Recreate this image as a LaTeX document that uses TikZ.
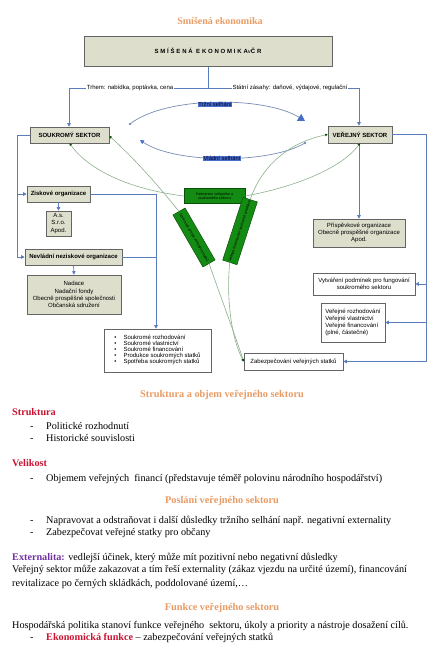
\documentclass[tikz,border=0pt]{standalone}
\usepackage{fontspec}
\setmainfont{Liberation Serif}
\setsansfont{Liberation Sans}
\usetikzlibrary{arrows.meta,calc}
\definecolor{orng}{RGB}{232,155,100}
\definecolor{redt}{RGB}{200,20,50}
\definecolor{purp}{RGB}{112,48,160}
\definecolor{boxfill}{RGB}{221,223,204}
\definecolor{boxdraw}{RGB}{100,100,100}
\definecolor{conblue}{RGB}{90,125,190}
\definecolor{arcblue}{RGB}{120,140,180}
\definecolor{hlblue}{RGB}{70,110,200}
\definecolor{gline}{RGB}{140,175,140}
\definecolor{gfill}{RGB}{20,140,20}
\definecolor{gdraw}{RGB}{10,80,10}
\tikzset{
  dbox/.style={draw=boxdraw, fill=boxfill, line width=0.6pt, font=\sffamily\fontsize{6}{7.2}\selectfont, align=center, inner sep=1pt},
  wbox/.style={draw=boxdraw, fill=white, line width=0.6pt, font=\sffamily\fontsize{6}{7.2}\selectfont, inner sep=1pt},
  bold/.style={font=\sffamily\bfseries\fontsize{6}{7.2}\selectfont},
  bcon/.style={draw=conblue, line width=0.7pt},
  barr/.style={bcon, -{Triangle[length=3.5pt,width=3.5pt]}},
  gcon/.style={draw=gline, line width=0.6pt, -{Triangle[length=2.5pt,width=2.5pt,fill=gdraw,color=gdraw]}},
  gbox/.style={draw=gdraw, fill=gfill, line width=0.5pt, font=\sffamily\fontsize{3.6}{4.2}\selectfont, align=center, inner sep=0.5pt},
  hl/.style={fill=hlblue, inner sep=0.6pt, font=\sffamily\fontsize{5.8}{6.5}\selectfont, text=black!80!blue},
  lbl/.style={fill=white, inner sep=1pt, font=\sffamily\fontsize{6}{7}\selectfont},
  body/.style={anchor=base west, inner sep=0pt, font=\fontsize{10.2}{12}\selectfont},
  head/.style={anchor=base, inner sep=0pt, font=\bfseries\fontsize{10.3}{12}\selectfont, text=orng},
}
\begin{document}
\begin{tikzpicture}[x=1pt,y=-1pt]
\useasboundingbox (0,0) rectangle (436,656);
% title
\node[head, font=\bfseries\fontsize{10}{12}\selectfont] (t1) at (220,24) {Smíšená ekonomika};
% top box
\node[dbox, line width=1pt, minimum width=248pt, minimum height=30pt] (top) at (208,51)
  {\bfseries\addfontfeature{LetterSpace=30}SMÍŠENÁ EKONOMIKA{\mdseries v}ČR};
% sectors
\node[dbox, bold, minimum width=79pt, minimum height=16pt] (souk) at (69.5,135) {SOUKROMÝ SEKTOR};
\node[dbox, bold, minimum width=64pt, minimum height=17pt] (ver) at (360,134.5) {VEŘEJNÝ SEKTOR};
% top connectors
\coordinate (jm) at (208,88);
\coordinate (jl) at (69,88);
\coordinate (jr) at (359,88);
\draw[bcon] (top.south) -- (jm);
\draw[bcon] (jl) -- (jr);
\draw[barr] (jl) -- (souk.north -| jl);
\draw[barr] (jr) -- (ver.north -| jr);
\node[lbl] (lt) at (130,88) {Trhem: nabídka, poptávka, cena};
\node[lbl] (rt) at (290,88) {Státní zásahy: daňové, výdajové, regulační};
% arcs
\coordinate (a1s) at (130,124);
\coordinate (a1e) at (305,121);
\coordinate (a2s) at (305,143);
\coordinate (a2e) at (140,140);
\fill[arcblue] (a1s) circle (1.3pt);
\fill[arcblue] (a2s) circle (1.3pt);
\draw[draw=arcblue, line width=0.7pt, -{Triangle[length=7pt,width=8pt,fill=hlblue,color=hlblue]}] (a1s) .. controls (165,96) and (265,96) .. (a1e);
\draw[draw=arcblue, line width=0.7pt, -{Triangle[length=4pt,width=4pt,fill=hlblue,color=hlblue]}] (a2s) .. controls (270,164) and (175,164) .. (a2e);
\node[hl] (trz) at (215,104.5) {Tržní selhání};
\node[hl] (vld) at (222,158.5) {Vládní selhání};
% left tree
\node[dbox, bold, minimum width=63pt, minimum height=16pt] (zisk) at (58.5,194) {Ziskové organizace};
\node[dbox, minimum width=25pt, minimum height=25pt] (as) at (58.5,223.5) {A.s.\\S.r.o.\\Apod.};
\node[dbox, bold, minimum width=97pt, minimum height=16pt] (nevl) at (73.5,257) {Nevládní neziskové organizace};
\node[dbox, minimum width=94pt, minimum height=39pt] (nad) at (74,294.5) {Nadace\\Nadační fondy\\Obecně prospěšné společnosti\\Občanská sdružení};
\node[wbox, minimum width=107pt, minimum height=43pt, align=left] (bul) at (157.5,350.5)
 {\begin{tabular}{@{}l@{\hspace{7pt}}l@{}}
 \textbullet & Soukromé rozhodování\\[-1.2pt]
 \textbullet & Soukromé vlastnictví\\[-1.2pt]
 \textbullet & Soukromé financování\\[-1.2pt]
 \textbullet & Produkce soukromých statků\\[-1.2pt]
 \textbullet & Spotřeba soukromých statků
 \end{tabular}};
\coordinate (l1) at (17,135);
\coordinate (l2) at (17,257);
\draw[bcon] (souk.west) -- (l1) -- (l2);
\draw[barr] (l2) -- (nevl.west);
\draw[barr] (zisk.west -| l1) -- (zisk.west);
\draw[barr] (zisk.south) -- (as.north);
\draw[barr] (nevl.south) -- (nad.north);
\coordinate (m1) at (156,194);
\draw[bcon] (zisk.east) -- (m1);
\draw[bcon] (nevl.east) -- (nevl.east -| m1);
\draw[barr] (m1) -- (bul.north -| m1);
% right tree
\node[dbox, minimum width=92pt, minimum height=28pt] (prisp) at (359,233) {Příspěvkové organizace\\Obecně prospěšné organizace\\Apod.};
\node[wbox, minimum width=102pt, minimum height=22pt, align=center] (vytv) at (364,284) {Vytváření podmínek pro fungování\\soukromého sektoru};
\node[wbox, minimum width=64pt, minimum height=39pt, align=left] (verej) at (353,322.5) {Veřejné rozhodování\\Veřejné vlastnictví\\Veřejné financování\\(plné, částečné)};
\node[wbox, minimum width=99pt, minimum height=17pt] (zab) at (293.5,361.5) {Zabezpečování veřejných statků};
\draw[barr] (ver.south -| prisp.north) -- (prisp.north);
\coordinate (r1) at (426,134.5);
\coordinate (r2) at (426,361.5);
\draw[bcon] (ver.east) -- (r1) -- (r2);
\draw[barr] (r2) -- (zab.east);
\draw[barr] (vytv.east -| r1) -- (vytv.east);
\draw[barr] (verej.east -| r1) -- (verej.east);
% green triangle
\node[gbox, minimum width=61pt, minimum height=15pt] (gtop) at (214.5,196) {Partnerství veřejného a\\soukromého sektoru};
\node[gbox, rotate=-60, minimum width=60pt, minimum height=14pt] (gleft) at (194,237.5) {Soukromá výroba veřejných statků};
\node[gbox, rotate=72, minimum width=66pt, minimum height=15pt] (gright) at (240,231) {Veřejné financování soukromé produkce};
\draw[gcon] (gleft.west) .. controls (150,175) and (125,150) .. ($(souk.east)+(0,1)$);
\draw[gcon] (gtop.west) .. controls (120,188) and (85,165) .. (souk.south);
\draw[gcon] (gright.east) .. controls (262,165) and (290,142) .. (ver.west);
\draw[gcon] (gtop.east) .. controls (290,188) and (340,170) .. (ver.south);
\draw[gcon] (gleft.east) .. controls (220,295) and (235,335) .. (zab.west);
\draw[gcon] (gright.west) .. controls (226,300) and (232,340) .. (zab.west);
% text section
\node[head] (h2) at (222,397) {Struktura a objem veřejného sektoru};
\node[body, font=\bfseries\fontsize{10.2}{12}\selectfont, text=redt] (s1) at (12,415) {Struktura};
\node[body] (d1) at (30,429) {-};
\node[body] (p1) at (46,429) {Politické rozhodnutí};
\node[body] (d2) at (30,441) {-};
\node[body] (p2) at (46,441) {Historické souvislosti};
\node[body, font=\bfseries\fontsize{10.2}{12}\selectfont, text=redt] (s2) at (12,466) {Velikost};
\node[body] (d3) at (30,481) {-};
\node[body] (p3) at (46,481) {Objemem veřejných\ \ financí (představuje téměř polovinu národního hospodářství)};
\node[head] (h3) at (222,503) {Poslání veřejného sektoru};
\node[body] (d4) at (30,523) {-};
\node[body] (p4) at (46,523) {Napravovat a odstraňovat i další důsledky tržního selhání např. negativní externality};
\node[body] (d5) at (30,535) {-};
\node[body] (p5) at (46,535) {Zabezpečovat veřejné statky pro občany};
\node[body] (e1) at (12,560) {\textbf{\color{purp}Externalita:} vedlejší účinek, který může mít pozitivní nebo negativní důsledky};
\node[body] (e2) at (12,572) {Veřejný sektor může zakazovat a tím řeší externality (zákaz vjezdu na určité území), financování};
\node[body] (e3) at (12,586) {revitalizace po černých skládkách, poddolované území,…};
\node[head] (h4) at (222,610) {Funkce veřejného sektoru};
\node[body] (f1) at (12,628) {Hospodářská politika stanoví funkce veřejného\ \ sektoru, úkoly a priority a nástroje dosažení cílů.};
\node[body] (d6) at (30,640) {-};
\node[body] (f2) at (46,640) {\textbf{\color{redt}Ekonomická funkce} – zabezpečování veřejných statků};
\end{tikzpicture}
\end{document}
